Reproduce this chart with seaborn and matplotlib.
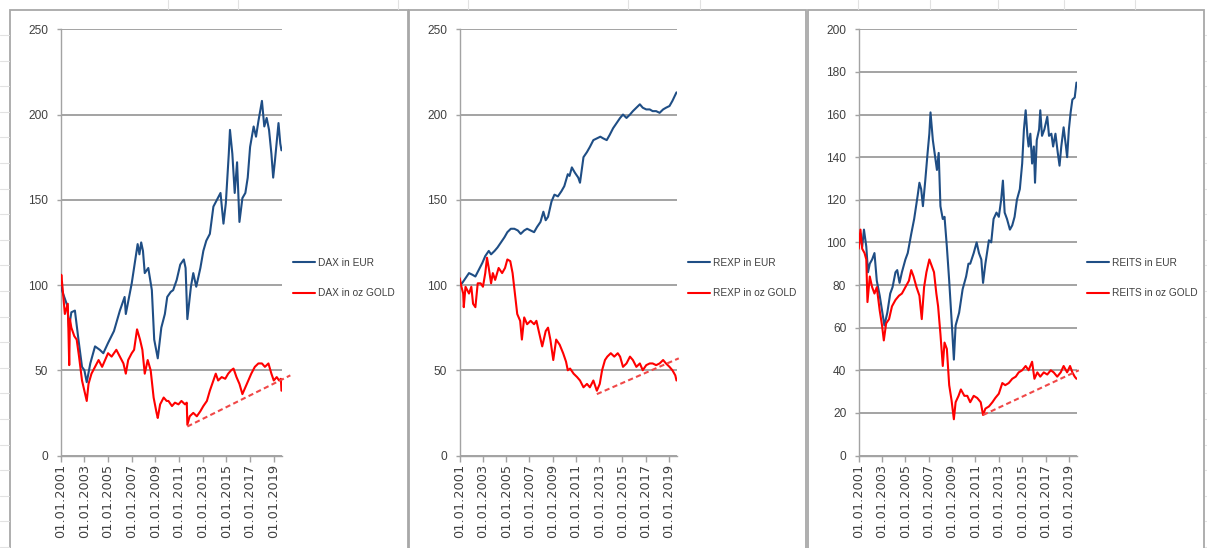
import matplotlib
matplotlib.use("Agg")
import matplotlib.pyplot as plt
import seaborn as sns
import pandas as pd
from matplotlib.patches import Rectangle
from matplotlib.lines import Line2D

# ---------------- data (decimal years, index values) ----------------
dax_eur_t = [2001.0, 2001.3, 2001.55, 2001.7, 2001.9, 2002.2, 2002.5, 2002.8, 2003.0, 2003.2,
             2003.5, 2003.9, 2004.3, 2004.6, 2005.0, 2005.5, 2006.0, 2006.4, 2006.5, 2007.0,
             2007.5, 2007.65, 2007.8, 2007.95, 2008.1, 2008.4, 2008.7, 2008.9, 2009.2, 2009.5,
             2009.8, 2010.0, 2010.3, 2010.5, 2010.8, 2011.1, 2011.4, 2011.55, 2011.7, 2012.0,
             2012.2, 2012.45, 2012.8, 2013.05, 2013.3, 2013.6, 2013.9, 2014.2, 2014.5, 2014.75,
             2014.95, 2015.2, 2015.3, 2015.5, 2015.7, 2015.9, 2016.1, 2016.35, 2016.6, 2016.8,
             2017.0, 2017.3, 2017.5, 2017.7, 2018.0, 2018.2, 2018.4, 2018.6, 2018.8, 2018.95,
             2019.1, 2019.4, 2019.55, 2019.65]
dax_eur_v = [99, 93, 88, 75, 84, 85, 68, 52, 50, 43,
             54, 64, 62, 60, 66, 73, 85, 93, 83, 101,
             124, 118, 125, 120, 107, 110, 97, 68, 57, 75,
             83, 93, 96, 97, 103, 112, 115, 110, 80, 99,
             107, 99, 110, 120, 126, 130, 146, 150, 154, 136,
             148, 177, 191, 177, 154, 172, 137, 151, 154, 163,
             181, 193, 187, 196, 208, 193, 198, 191, 177, 163,
             173, 195, 183, 179]
dax_gold_t = [2001.0, 2001.05, 2001.15, 2001.35, 2001.6, 2001.72, 2001.78, 2001.9, 2002.15, 2002.35,
              2002.55, 2002.8, 2003.0, 2003.2, 2003.35, 2003.6, 2003.9, 2004.2, 2004.5, 2004.75,
              2005.0, 2005.3, 2005.7, 2006.0, 2006.3, 2006.5, 2006.7, 2007.0, 2007.2, 2007.45,
              2007.7, 2007.9, 2008.1, 2008.35, 2008.6, 2008.85, 2009.1, 2009.2, 2009.4, 2009.7,
              2009.95, 2010.1, 2010.4, 2010.65, 2010.95, 2011.2, 2011.5, 2011.65, 2011.7, 2011.9,
              2012.2, 2012.5, 2012.8, 2013.05, 2013.35, 2013.6, 2013.9, 2014.1, 2014.3, 2014.6,
              2014.9, 2015.15, 2015.4, 2015.6, 2015.85, 2016.1, 2016.35, 2016.6, 2016.85, 2017.1,
              2017.4, 2017.7, 2018.0, 2018.25, 2018.55, 2018.8, 2019.0, 2019.25, 2019.45, 2019.6,
              2019.65]
dax_gold_v = [100, 106, 99, 83, 89, 53, 80, 75, 70, 68,
              58, 44, 38, 32, 42, 48, 52, 56, 52, 56,
              60, 58, 62, 58, 54, 48, 56, 60, 62, 74,
              68, 62, 48, 56, 50, 34, 25, 22, 30, 34,
              32, 32, 29, 31, 30, 32, 30, 31, 18, 23,
              25, 23, 26, 29, 32, 38, 44, 48, 44, 46,
              45, 48, 50, 51, 46, 42, 36, 40, 44, 48,
              52, 54, 54, 52, 54, 48, 44, 46, 44, 45,
              38]
dax_trend_t = [2011.7, 2020.4]
dax_trend_v = [17, 47]

rexp_eur_t = [2001.0, 2001.2, 2001.5, 2001.8, 2002.1, 2002.35, 2002.65, 2002.95, 2003.2, 2003.5,
              2003.7, 2004.0, 2004.25, 2004.55, 2004.85, 2005.1, 2005.4, 2005.7, 2006.0, 2006.25,
              2006.55, 2006.8, 2007.1, 2007.4, 2007.65, 2007.95, 2008.2, 2008.4, 2008.6, 2008.9,
              2009.15, 2009.45, 2009.75, 2010.0, 2010.3, 2010.45, 2010.65, 2010.9, 2011.2, 2011.35,
              2011.65, 2011.95, 2012.2, 2012.5, 2012.8, 2013.1, 2013.35, 2013.65, 2013.9, 2014.2,
              2014.5, 2014.8, 2015.05, 2015.35, 2015.65, 2015.9, 2016.2, 2016.5, 2016.75, 2017.05,
              2017.35, 2017.6, 2017.9, 2018.2, 2018.5, 2018.75, 2019.05, 2019.3, 2019.65]
rexp_eur_v = [101, 101, 104, 107, 106, 105, 109, 113, 117, 120,
              118, 120, 122, 125, 128, 131, 133, 133, 132, 130,
              132, 133, 132, 131, 134, 137, 143, 138, 140, 149,
              153, 152, 155, 158, 165, 164, 169, 166, 163, 160,
              175, 178, 181, 185, 186, 187, 186, 185, 188, 192,
              195, 198, 200, 198, 200, 202, 204, 206, 204, 203,
              203, 202, 202, 201, 203, 204, 205, 208, 213]
rexp_gold_t = [2001.0, 2001.15, 2001.3, 2001.35, 2001.5, 2001.8, 2002.0, 2002.15, 2002.35, 2002.55,
               2002.8, 2003.0, 2003.2, 2003.35, 2003.5, 2003.7, 2003.85, 2004.05, 2004.35, 2004.65,
               2004.9, 2005.1, 2005.35, 2005.55, 2005.75, 2005.95, 2006.2, 2006.35, 2006.55, 2006.8,
               2007.1, 2007.4, 2007.6, 2007.9, 2008.1, 2008.4, 2008.6, 2008.8, 2009.05, 2009.3,
               2009.6, 2009.9, 2010.15, 2010.3, 2010.5, 2010.8, 2011.1, 2011.35, 2011.65, 2011.95,
               2012.2, 2012.5, 2012.8, 2013.05, 2013.25, 2013.5, 2013.7, 2014.0, 2014.3, 2014.6,
               2014.8, 2015.05, 2015.35, 2015.65, 2015.9, 2016.2, 2016.5, 2016.75, 2017.05, 2017.35,
               2017.6, 2017.9, 2018.2, 2018.5, 2018.75, 2019.05, 2019.3, 2019.55, 2019.65]
rexp_gold_v = [104, 99, 95, 87, 99, 95, 99, 89, 87, 101,
               101, 99, 107, 116, 110, 101, 107, 103, 110, 107,
               110, 115, 114, 107, 95, 83, 79, 68, 81, 77,
               79, 77, 79, 70, 64, 73, 75, 68, 56, 68,
               65, 60, 55, 50, 51, 48, 46, 44, 40, 42,
               40, 44, 38, 42, 50, 56, 58, 60, 58, 60,
               58, 52, 54, 58, 56, 52, 54, 50, 53, 54,
               54, 53, 54, 56, 54, 52, 50, 47, 44]
rexp_trend_t = [2012.8, 2019.85]
rexp_trend_v = [36, 57]

reits_eur_t = [2001.0, 2001.15, 2001.3, 2001.45, 2001.65, 2001.8, 2001.95, 2002.15, 2002.35, 2002.55,
               2002.8, 2003.0, 2003.2, 2003.45, 2003.7, 2003.9, 2004.15, 2004.3, 2004.5, 2004.7,
               2005.0, 2005.2, 2005.5, 2005.75, 2006.05, 2006.2, 2006.35, 2006.5, 2006.7, 2006.9,
               2007.05, 2007.15, 2007.35, 2007.5, 2007.7, 2007.85, 2008.0, 2008.2, 2008.35, 2008.55,
               2008.75, 2008.95, 2009.15, 2009.3, 2009.6, 2009.9, 2010.2, 2010.4, 2010.55, 2010.85,
               2011.1, 2011.3, 2011.5, 2011.65, 2011.85, 2012.15, 2012.35, 2012.55, 2012.8, 2013.0,
               2013.2, 2013.35, 2013.5, 2013.7, 2013.95, 2014.15, 2014.35, 2014.55, 2014.8, 2015.0,
               2015.15, 2015.3, 2015.45, 2015.55, 2015.7, 2015.85, 2016.0, 2016.1, 2016.25, 2016.45,
               2016.55, 2016.7, 2016.9, 2017.15, 2017.3, 2017.5, 2017.65, 2017.85, 2018.05, 2018.2,
               2018.35, 2018.55, 2018.75, 2018.85, 2019.0, 2019.15, 2019.3, 2019.5, 2019.65]
reits_eur_v = [98, 104, 98, 106, 98, 86, 90, 92, 95, 82,
               75, 68, 61, 67, 76, 79, 86, 87, 81, 86,
               92, 95, 104, 111, 122, 128, 125, 117, 129, 142,
               151, 161, 148, 142, 134, 142, 117, 111, 112, 98,
               82, 64, 45, 61, 67, 78, 84, 90, 90, 95,
               100, 95, 92, 81, 90, 101, 100, 111, 114, 112,
               120, 129, 114, 111, 106, 108, 112, 120, 125, 137,
               153, 162, 150, 145, 151, 137, 145, 128, 148, 153,
               162, 150, 153, 159, 150, 151, 145, 151, 142, 136,
               145, 154, 145, 140, 153, 161, 167, 168, 175]
reits_gold_t = [2001.0, 2001.15, 2001.3, 2001.5, 2001.65, 2001.75, 2001.95, 2002.15, 2002.35, 2002.55,
                2002.8, 2003.0, 2003.15, 2003.35, 2003.6, 2003.85, 2004.15, 2004.45, 2004.7, 2005.0,
                2005.3, 2005.5, 2005.7, 2005.95, 2006.2, 2006.4, 2006.6, 2006.8, 2007.05, 2007.25,
                2007.45, 2007.65, 2007.8, 2008.0, 2008.2, 2008.35, 2008.55, 2008.75, 2008.95, 2009.15,
                2009.3, 2009.55, 2009.75, 2010.05, 2010.3, 2010.55, 2010.85, 2011.15, 2011.45, 2011.65,
                2011.85, 2012.15, 2012.45, 2012.7, 2013.0, 2013.3, 2013.55, 2013.85, 2014.15, 2014.45,
                2014.7, 2015.0, 2015.3, 2015.55, 2015.85, 2016.05, 2016.3, 2016.55, 2016.85, 2017.15,
                2017.45, 2017.7, 2018.0, 2018.3, 2018.55, 2018.85, 2019.1, 2019.3, 2019.5, 2019.65]
reits_gold_v = [97, 106, 97, 95, 92, 72, 84, 79, 76, 79,
                68, 61, 54, 62, 64, 70, 73, 75, 76, 79,
                82, 87, 84, 79, 75, 64, 79, 86, 92, 89,
                86, 76, 70, 57, 42, 53, 50, 33, 26, 17,
                25, 28, 31, 28, 28, 25, 28, 27, 25, 19,
                22, 23, 25, 27, 29, 34, 33, 34, 36, 37,
                39, 40, 42, 40, 44, 36, 39, 37, 39, 38,
                40, 39, 37, 39, 42, 39, 42, 39, 37, 36]
reits_trend_t = [2011.65, 2019.85]
reits_trend_v = [19, 40]

year_ticks = [2001, 2003, 2005, 2007, 2009, 2011, 2013, 2015, 2017, 2019]
year_labels = ["01.01.%d" % y for y in year_ticks]

# ---------------- styling ----------------
sns.set_style("white")
plt.rcParams['font.family'] = ['Liberation Sans', 'DejaVu Sans']

W, H = 1207, 548
fig = plt.figure(figsize=(W / 100, H / 100), dpi=100)
fig.patch.set_facecolor('white')

BLUE = '#1f4e85'
RED = '#ff0000'
TREND = '#f04848'
GRID = '#a3a3a3'
TXT = '#404040'

def fx(px):
    return px / W

def fy(py):
    return 1 - py / H

# faint Excel sheet cell lines
for k in range(21):
    yy = 35 + 25.6 * k
    fig.add_artist(Line2D([0, fx(9)], [fy(yy), fy(yy)], color='#e2e2e2', lw=0.8,
                          transform=fig.transFigure))
    fig.add_artist(Line2D([fx(1205), 1], [fy(yy), fy(yy)], color='#e2e2e2', lw=0.8,
                          transform=fig.transFigure))
for xx in [168, 238, 398, 468, 628, 700, 858, 930, 998, 1064, 1135]:
    fig.add_artist(Line2D([fx(xx), fx(xx)], [1, fy(9)], color='#e2e2e2', lw=0.8,
                          transform=fig.transFigure))

# chart borders
for x0, x1 in [(10, 408), (409, 806), (808, 1204)]:
    fig.add_artist(Rectangle((fx(x0), -0.1), fx(x1 - x0), fy(10) + 0.1, fill=False,
                             edgecolor='#a8a8a8', lw=1.3, transform=fig.transFigure))

panels = [
    dict(left=60.7, right=281.7, ymax=250, ystep=50,
         eur=(dax_eur_t, dax_eur_v), gold=(dax_gold_t, dax_gold_v),
         trend=(dax_trend_t, dax_trend_v), name='DAX', legx=293),
    dict(left=459.7, right=676.7, ymax=250, ystep=50,
         eur=(rexp_eur_t, rexp_eur_v), gold=(rexp_gold_t, rexp_gold_v),
         trend=(rexp_trend_t, rexp_trend_v), name='REXP', legx=688),
    dict(left=858.7, right=1076.7, ymax=200, ystep=20,
         eur=(reits_eur_t, reits_eur_v), gold=(reits_gold_t, reits_gold_v),
         trend=(reits_trend_t, reits_trend_v), name='REITS', legx=1087),
]

TOP, BOT = 29.3, 455.5

for p in panels:
    ax = fig.add_axes([fx(p['left']), fy(BOT), fx(p['right'] - p['left']), (BOT - TOP) / H])
    ax.set_facecolor('none')
    et, ev = p['eur']
    gt, gv = p['gold']
    assert len(et) == len(ev) and len(gt) == len(gv)
    df_e = pd.DataFrame({'t': et, 'v': ev})
    df_g = pd.DataFrame({'t': gt, 'v': gv})
    sns.lineplot(data=df_e, x='t', y='v', ax=ax, color=BLUE, lw=1.5, errorbar=None,
                 label=f"{p['name']} in EUR", zorder=3)
    sns.lineplot(data=df_g, x='t', y='v', ax=ax, color=RED, lw=1.5, errorbar=None,
                 label=f"{p['name']} in oz GOLD", zorder=4)
    tt, tv = p['trend']
    ax.plot(tt, tv, color=TREND, lw=1.5, ls=(0, (2.5, 1.6)), clip_on=False, zorder=5)

    ax.set_xlim(2001, 2019.67)
    ax.set_ylim(0, p['ymax'])
    ax.set_yticks(list(range(0, p['ymax'] + 1, p['ystep'])))
    ax.set_xticks(year_ticks)
    ax.set_xticklabels(year_labels, rotation=90, fontfamily='DejaVu Sans', fontsize=9.3,
                       color=TXT)
    for lab in ax.get_yticklabels():
        lab.set_fontsize(8.6)
        lab.set_color(TXT)
    ax.set_xlabel('')
    ax.set_ylabel('')
    ax.grid(axis='y', color=GRID, lw=1.4)
    ax.grid(axis='x', visible=False)
    ax.set_axisbelow(True)
    for s in ['top', 'right']:
        ax.spines[s].set_visible(False)
    ax.spines['left'].set_color(GRID)
    ax.spines['bottom'].set_color(GRID)
    ax.spines['left'].set_linewidth(1.0)
    ax.spines['bottom'].set_linewidth(1.0)
    ax.tick_params(axis='y', which='major', left=True, length=3, width=1, color=GRID, pad=6)
    ax.tick_params(axis='x', which='major', bottom=True, length=4, width=1, color=GRID, pad=2)

    handles, labels = ax.get_legend_handles_labels()
    leg = ax.legend(handles[:2], labels[:2], loc='center left',
                    bbox_to_anchor=(fx(p['legx']), fy(278)), bbox_transform=fig.transFigure,
                    frameon=False, fontsize=7.3, handlelength=2.15, handletextpad=0.3,
                    labelspacing=2.05, borderpad=0, borderaxespad=0)
    for txt in leg.get_texts():
        txt.set_color(TXT)
    for ln in leg.get_lines():
        ln.set_linewidth(1.5)

fig.savefig('out.png', dpi=100, facecolor='white')
